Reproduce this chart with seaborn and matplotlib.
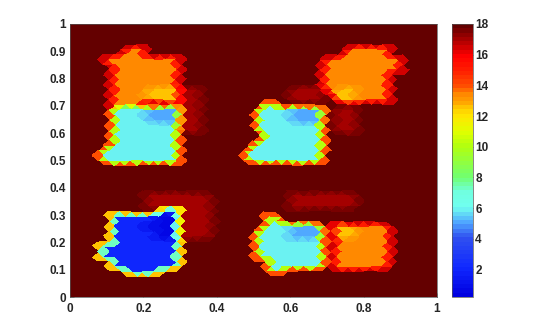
import numpy as np
import matplotlib
matplotlib.use("Agg")
import matplotlib.pyplot as plt
import matplotlib.tri as mtri
from matplotlib.colors import LinearSegmentedColormap
import seaborn as sns

# level map, bottom row first
node_rows = [
    "..................................",
    "..................................",
    "..................................",
    ".....BBB..........C...............",
    "....BBBBBB........CCCCC.OOOOO.....",
    "...BBBBBBB.......CCCCCC.OOOOO.....",
    "...BBBBBBB.......CCCCCC.OOOOO.....",
    "....BBBBBB.......CCCCCC.OOOOO.....",
    "....BBBBDDaaa....CCCSSS.YYOOO.....",
    "....BBBDDDaaa.....CCSSS.YYOOO.....",
    "....BBBBDDaaa.....C...............",
    "........BBaaa.....................",
    ".......aaaaaa.......aaaaaa........",
    ".......aaaaaa.......aaaaaa........",
    "..................................",
    "..................................",
    "..................................",
    "..................................",
    "...CCCCCCC......CCCCCCC...........",
    "...CCCCCCC......CCCCCCC...........",
    "....CCCCCC.......CCCCCC...........",
    "....CCCCCC........CCCCC...........",
    "....CCCCCCaa.....CCCCCC.aa........",
    "....CCCSSSaa.....CCCSSS.aa........",
    "....CCCSSSaa.....CCCSSS.aa........",
    "....OOO...aa......C...............",
    "....OOOYYYaa........aaa.YYOOO.....",
    "....OOOYYYaa........aaaOYYOOO.....",
    "....OOOOOO.............OOOOOO.....",
    "....OOOOOO.............OOOOOO.....",
    "....OOOOOO.............OOOOOOO....",
    "...OOOOOOO.............OOOOOOO....",
    ".....OO..................OOOO.....",
    "..................................",
    "..................................",
    "..................................",
    "..................................",
]
node_levels = {".": 18, "a": 17, "O": 13.5, "Y": 12.5, "C": 6, "S": 5, "B": 2, "D": 0.5}

x_ticks = [0, 0.2, 0.4, 0.6, 0.8, 1]
y_ticks = [0, 0.1, 0.2, 0.3, 0.4, 0.5, 0.6, 0.7, 0.8, 0.9, 1]
cbar_ticks = [2, 4, 6, 8, 10, 12, 14, 16, 18]

cmap_values = [0.2, 2, 4, 5, 6, 7, 8, 10, 11, 12, 12.5, 13, 13.5, 14, 15, 16, 17, 18]
cmap_colors = ["#0000e0", "#1028ff", "#3050f0", "#50a8ff", "#70fff0", "#70ffe0", "#70ff70",
               "#b0ff10", "#e0ff00", "#ffe800", "#ffd000", "#ffa000", "#ff8800", "#ff5000",
               "#ff2000", "#ff0000", "#b00000", "#640000"]

sns.set_style("ticks")
plt.rcParams["font.family"] = ["Liberation Sans", "DejaVu Sans"]
plt.rcParams["font.weight"] = "bold"

stops = [(v - cmap_values[0]) / (cmap_values[-1] - cmap_values[0]) for v in cmap_values]
jet_like = LinearSegmentedColormap.from_list("jet_like", list(zip(stops, cmap_colors)), N=64)

# staggered mesh, each node takes the level of the map cell it falls in
xs, ys, zs = [], [], []
for r in range(55):
    for k in range(34):
        x = (k + 0.5 * (r % 2)) / 33
        y = r / 54
        row = node_rows[min(int(round(y * 36 - 0.4)), 36)]
        ch = row[min(int(round(x * 33 - 0.3)), 33)]
        xs.append(x)
        ys.append(y)
        zs.append(node_levels[ch])

tri = mtri.Triangulation(np.array(xs), np.array(ys))

fig = plt.figure(figsize=(5.4, 3.35), dpi=100)
ax = fig.add_axes([70 / 540, 1 - 297 / 335, 367 / 540, 273 / 335])
mesh = ax.tripcolor(tri, np.array(zs), shading="flat", cmap=jet_like, vmin=0.2, vmax=18,
                    edgecolors="none", linewidth=0)
ax.set_xlim(0, 1)
ax.set_ylim(0, 1)
ax.set_xticks(x_ticks)
ax.set_xticklabels([f"{t:g}" for t in x_ticks])
ax.set_yticks(y_ticks)
ax.set_yticklabels([f"{t:g}" for t in y_ticks])
ax.tick_params(direction="in", length=3, width=0.4, labelsize=8.5, pad=3, color="#444444")
ax.tick_params(axis="x", pad=4.5)
for s in ax.spines.values():
    s.set_linewidth(0.5)
    s.set_color("#555555")

cax = fig.add_axes([452 / 540, 1 - 297 / 335, 20.5 / 540, 273 / 335])
cb = fig.colorbar(mesh, cax=cax)
cb.set_ticks(cbar_ticks)
cb.ax.tick_params(direction="in", length=2.5, width=0.4, labelsize=8.5, pad=2, color="#444444")
cb.outline.set_linewidth(0.5)
cb.outline.set_edgecolor("#555555")

fig.savefig("out.png", dpi=100)
